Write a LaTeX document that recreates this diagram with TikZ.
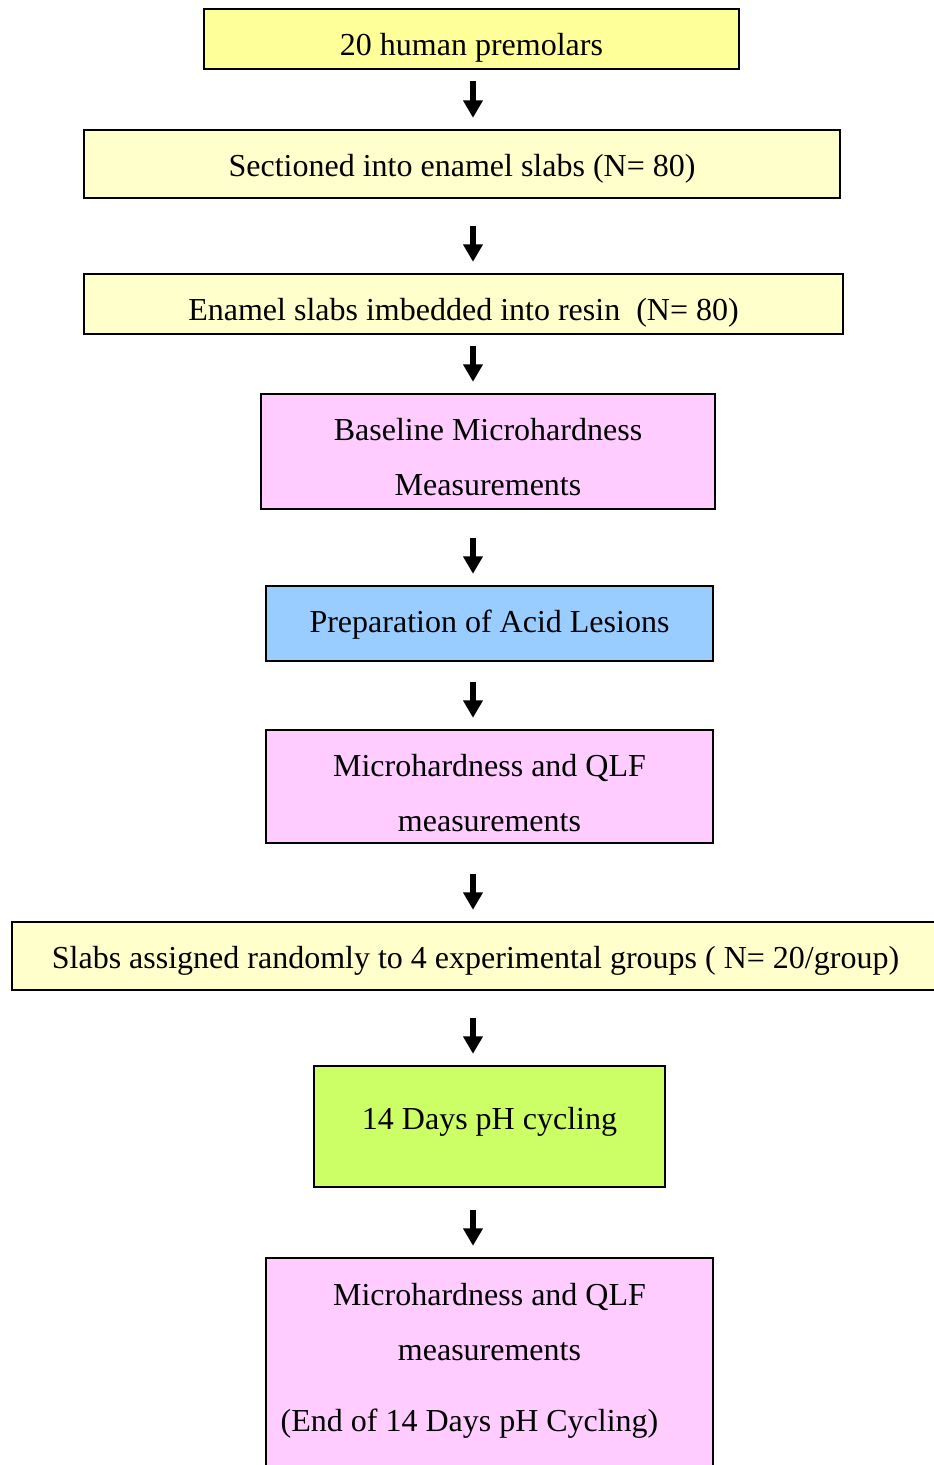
\documentclass[tikz,border=0pt]{standalone}
\usepackage{fontspec}
\setmainfont{Liberation Serif}
\usetikzlibrary{arrows.meta, calc}

\definecolor{boxyellow}{HTML}{FFFF99}
\definecolor{boxcream}{HTML}{FFFFCC}
\definecolor{boxpink}{HTML}{FFCCFF}
\definecolor{boxblue}{HTML}{99CCFF}
\definecolor{boxgreen}{HTML}{CCFF66}

\begin{document}
\begin{tikzpicture}[x=0.75pt, y=-0.75pt, font=\fontsize{24}{41.25}\selectfont,
    every node/.style={align=center},
    stage/.style={draw, line width=1.8pt, inner sep=0pt, text depth=0pt},
    flow/.style={line width=4.5pt, -{Triangle[width=14pt, length=13pt]}, shorten >=8.25pt}]
    \useasboundingbox ({0},{0}) rectangle ({933},{1465});
    \coordinate (ax) at ({473},{0});

    \node[stage, fill=boxyellow, minimum width=401.25pt, minimum height=45pt, text height=24pt] (premolars) at ({471.5},{39}) {20 human premolars};
    \node[stage, fill=boxcream, minimum width=567pt, minimum height=51pt, text height=19pt] (section) at ({462},{164}) {Sectioned into enamel slabs (N= 80)};
    \node[stage, fill=boxcream, minimum width=569.25pt, minimum height=45pt, text height=24pt] (resin) at ({463.5},{304}) {Enamel slabs imbedded into resin\ \ (N= 80)};
    \node[stage, fill=boxpink, minimum width=340.5pt, minimum height=86.25pt, text height=65.25pt] (baseline) at ({488},{451.5}) {Baseline Microhardness\\Measurements};
    \node[stage, fill=boxblue, minimum width=335.25pt, minimum height=56.25pt, text height=13.5pt] (lesion) at ({489.5},{623.5}) {Preparation of Acid Lesions};
    \node[stage, fill=boxpink, minimum width=335.25pt, minimum height=84.75pt, text height=67.5pt] (qlfa) at ({489.5},{786.5}) {Microhardness and QLF\\measurements};
    \node[stage, fill=boxcream, minimum width=695.25pt, minimum height=51pt, text height=19pt] (groups) at ({475.5},{956}) {Slabs assigned randomly to 4 experimental groups ( N= 20/group)};
    \node[stage, fill=boxgreen, minimum width=263.25pt, minimum height=90.75pt, text height=3.75pt] (cycling) at ({489.5},{1126.5}) {14 Days pH cycling};
    \node[stage, fill=boxpink, minimum width=335.25pt, minimum height=195pt, text height=64.5pt] (qlfb) at ({489.5},{1388}) {Microhardness and QLF\\measurements\\[12pt](End of 14 Days pH Cycling)\hspace*{30pt}};

    \foreach \u/\v/\s in {premolars/section/8.25, section/resin/20.25, resin/baseline/8.25, baseline/lesion/21,
        lesion/qlfa/15, qlfa/groups/22.5, groups/cycling/20.25, cycling/qlfb/16.5}
        \draw[flow, shorten <=\s pt] (\u.south -| ax) -- (\v.north -| ax);
\end{tikzpicture}
\end{document}
